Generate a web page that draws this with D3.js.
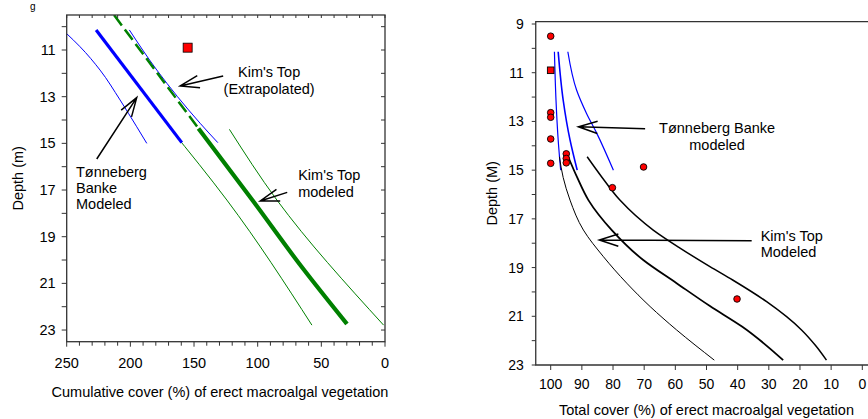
<!DOCTYPE html>
<html><head><meta charset="utf-8">
<script src="https://cdn.jsdelivr.net/npm/d3@7"></script>
<style>
body{margin:0;background:#fff}
svg{display:block}
text{font-family:"Liberation Sans",Arial,Helvetica,sans-serif;fill:#000}
</style>
</head><body>
<svg id="c" width="868" height="419"></svg>
<script>
// ---------- tick labels ----------
const leftXTicks = [250, 200, 150, 100, 50, 0];
const leftYTicks = [11, 13, 15, 17, 19, 21, 23];
const rightXTicks = [100, 90, 80, 70, 60, 50, 40, 30, 20, 10, 0];
const rightYTicks = [9, 11, 13, 15, 17, 19, 21, 23];

// ---------- left panel series: [cumulative cover %, depth m] ----------
const tbModeled = [[226.9, 10.14], [159.6, 14.97]];
const tbLower = [[250, 10.3], [239.5, 10.86], [223.8, 11.86], [208.1, 13.14], [195, 14.29], [187.1, 15.0]];
const tbUpper = [[200.8, 10.14], [179.2, 11.86], [145.2, 14.14], [131.3, 14.97]];
const kimExtrap = [[212.8, 9.5], [146.5, 14.36]];
const kimModeled = [[146.5, 14.36], [104.2, 17.43], [65.5, 20.29], [29.9, 22.74]];
const kimLower = [[168.8, 14.36], [124.2, 17.43], [57.4, 22.79]];
const kimUpper = [[122.2, 14.4], [84.9, 17.43], [1.1, 22.79]];
const leftSquare = [[155, 10.9]];

// ---------- right panel series: [total cover %, depth m] ----------
const tbR1 = [[98.8, 10.14], [98.3, 12.12], [97.6, 13.76], [96.8, 15.0]];
const tbR2 = [[97.6, 10.14], [96.0, 12.12], [93.8, 13.76], [91.5, 15.0]];
const tbR3 = [[94.5, 10.14], [91.7, 11.71], [88.5, 12.67], [85.2, 13.49], [79.9, 15.0]];
const kR1 = [[97.2, 14.45], [96.0, 15.3], [93.8, 16.23], [89.5, 17.46], [83.1, 18.55], [75.6, 19.64], [68.1, 20.6], [59.6, 21.56], [47.5, 22.8]];
const kR2 = [[94.4, 14.45], [91.5, 15.3], [87.9, 16.23], [80.4, 17.46], [70.3, 18.69], [59.6, 19.64], [48.9, 20.58], [38.5, 21.43], [25.4, 22.8]];
const kR3 = [[88.3, 14.45], [83.5, 15.3], [77.8, 16.23], [67.1, 17.46], [58.5, 18.2], [48.9, 18.96], [41.6, 19.51], [30.7, 20.4], [19.5, 21.56], [15.0, 22.2], [11.5, 22.8]];
const obsCircles = [[100, 9.5], [100, 12.64], [100, 12.83], [100, 13.72], [100, 14.72], [95, 14.33], [95, 14.52], [95, 14.7], [80.2, 15.72], [70.2, 14.87], [40.2, 20.29]];
const obsSquare = [[100, 10.9]];

// ---------- annotations (data coordinates) ----------
const leftArrows = [
  {tail: [127.1, 12.11], head: [160.9, 12.54]},
  {tail: [226.4, 15.67], head: [195, 13.04]},
  {tail: [76.8, 17.1], head: [98, 17.47]}
];
const leftLabels = [
  {x: 91, y: 12.16, anchor: "middle", text: "Kim's Top"},
  {x: 91, y: 12.89, anchor: "middle", text: "(Extrapolated)"},
  {x: 242.7, y: 16.44, anchor: "start", text: "Tønneberg"},
  {x: 242.7, y: 17.13, anchor: "start", text: "Banke"},
  {x: 242.7, y: 17.82, anchor: "start", text: "Modeled"},
  {x: 68.2, y: 16.57, anchor: "start", text: "Kim's Top"},
  {x: 68.2, y: 17.29, anchor: "start", text: "modeled"}
];
const rightArrows = [
  {tail: [69.7, 13.3], head: [91.1, 13.22]},
  {tail: [35.5, 17.9], head: [84.4, 17.87]}
];
const rightLabels = [
  {x: 46.6, y: 13.49, anchor: "middle", text: "Tønneberg Banke"},
  {x: 46.6, y: 14.17, anchor: "middle", text: "modeled"},
  {x: 32.6, y: 17.91, anchor: "start", text: "Kim's Top"},
  {x: 32.6, y: 18.58, anchor: "start", text: "Modeled"}
];

const svg = d3.select("#c");
svg.append("rect").attr("width", 868).attr("height", 419).attr("fill", "#fff");

// fragment of the figure caption above the panels
svg.append("text").attr("x", 30).attr("y", 9.5).attr("font-size", 10).text("g");

const FS = 14.5;
const frameColor = "#333";

function drawArrow(g, x, y, a, len = 20, ang = 18 * Math.PI / 180) {
  const hx = x(a.head[0]), hy = y(a.head[1]);
  const tx = x(a.tail[0]), ty = y(a.tail[1]);
  const th = Math.atan2(ty - hy, tx - hx);
  const p = d3.path();
  p.moveTo(tx, ty); p.lineTo(hx, hy);
  p.moveTo(hx + len * Math.cos(th + ang), hy + len * Math.sin(th + ang));
  p.lineTo(hx, hy);
  p.lineTo(hx + len * Math.cos(th - ang), hy + len * Math.sin(th - ang));
  g.append("path").attr("d", p.toString()).attr("fill", "none")
    .attr("stroke", "#000").attr("stroke-width", 1.5);
}

// =================== LEFT PANEL ===================
{
  const x = d3.scaleLinear().domain([250, 0]).range([66.7, 385]);
  const y = d3.scaleLinear().domain([9.5, 23.5]).range([15, 341.7]);
  const g = svg.append("g");
  const [x0, x1] = x.range(), [y0, y1] = y.range();

  const line = d3.line().x(d => x(d[0])).y(d => y(d[1])).curve(d3.curveMonotoneY);
  svg.append("clipPath").attr("id", "clipL").append("rect")
    .attr("x", x0).attr("y", y0).attr("width", x1 - x0).attr("height", y1 - y0);
  const plot = g.append("g").attr("clip-path", "url(#clipL)");

  const series = [
    {d: tbLower, c: "#0000ff", w: 1},
    {d: tbUpper, c: "#0000ff", w: 1},
    {d: kimLower, c: "#008000", w: 1},
    {d: kimUpper, c: "#008000", w: 1},
    {d: kimExtrap, c: "#008000", w: 2.5, dash: "13,5"},
    {d: tbModeled, c: "#0000ff", w: 3.2},
    {d: kimModeled, c: "#008000", w: 4.2}
  ];
  series.forEach(s => {
    plot.append("path").attr("d", line(s.d)).attr("fill", "none")
      .attr("stroke", s.c).attr("stroke-width", s.w)
      .attr("stroke-dasharray", s.dash || null);
  });
  plot.selectAll("rect.sq").data(leftSquare).enter().append("rect")
    .attr("x", d => x(d[0]) - 4.5).attr("y", d => y(d[1]) - 4.5)
    .attr("width", 9).attr("height", 9)
    .attr("fill", "#ff0000").attr("stroke", "#000").attr("stroke-width", 0.8);

  // frame
  g.append("rect").attr("x", x0).attr("y", y0).attr("width", x1 - x0).attr("height", y1 - y0)
    .attr("fill", "none").attr("stroke", frameColor).attr("stroke-width", 1.3);

  // ticks
  const xt = d3.range(0, 251, 10);
  const yt = d3.range(10, 24, 1);
  g.selectAll("line.xb").data(xt).enter().append("line")
    .attr("x1", d => x(d)).attr("x2", d => x(d)).attr("y1", y1).attr("y2", d => y1 + (d % 50 === 0 ? 5 : 4))
    .attr("stroke", frameColor).attr("stroke-width", 1);
  g.selectAll("line.xt").data(xt).enter().append("line")
    .attr("x1", d => x(d)).attr("x2", d => x(d)).attr("y1", y0).attr("y2", y0 + 3)
    .attr("stroke", frameColor).attr("stroke-width", 1);
  g.selectAll("line.yl").data(yt).enter().append("line")
    .attr("x1", x0 - 5).attr("x2", x0).attr("y1", d => y(d)).attr("y2", d => y(d))
    .attr("stroke", frameColor).attr("stroke-width", 1);
  g.selectAll("line.yr").data(yt).enter().append("line")
    .attr("x1", x1 - 4).attr("x2", x1).attr("y1", d => y(d)).attr("y2", d => y(d))
    .attr("stroke", frameColor).attr("stroke-width", 1);

  g.selectAll("text.xl").data(leftXTicks).enter().append("text")
    .attr("x", d => x(d)).attr("y", y1 + 26).attr("text-anchor", "middle")
    .attr("font-size", FS).text(d => d);
  g.selectAll("text.yl").data(leftYTicks).enter().append("text")
    .attr("x", x0 - 11).attr("y", d => y(d) + 5).attr("text-anchor", "end")
    .attr("font-size", FS).text(d => d);

  g.append("text").attr("x", 220).attr("y", 396.5).attr("text-anchor", "middle")
    .attr("font-size", FS).text("Cumulative cover (%) of erect macroalgal vegetation");
  g.append("text").attr("transform", `translate(23,${(y0 + y1) / 2}) rotate(-90)`)
    .attr("text-anchor", "middle").attr("font-size", FS).text("Depth (m)");

  leftArrows.forEach(a => drawArrow(g, x, y, a));
  leftLabels.forEach(l => g.append("text").attr("x", x(l.x)).attr("y", y(l.y))
    .attr("text-anchor", l.anchor).attr("font-size", FS).text(l.text));
}

// =================== RIGHT PANEL ===================
{
  const x = d3.scaleLinear().domain([100, 0]).range([550.7, 862.3]);
  const y = d3.scaleLinear().domain([9, 23]).range([24, 365]);
  const g = svg.append("g");
  const x0 = x(104.8), x1 = 880, y0 = y(8.905), y1 = y(23);

  const line = d3.line().x(d => x(d[0])).y(d => y(d[1])).curve(d3.curveMonotoneY);
  const series = [
    {d: tbR1, c: "#0000ff", w: 1.2},
    {d: tbR2, c: "#0000ff", w: 1.6},
    {d: tbR3, c: "#0000ff", w: 1.2},
    {d: kR1, c: "#000", w: 1},
    {d: kR2, c: "#000", w: 1.8},
    {d: kR3, c: "#000", w: 1.5}
  ];
  series.forEach(s => {
    g.append("path").attr("d", line(s.d)).attr("fill", "none")
      .attr("stroke", s.c).attr("stroke-width", s.w);
  });
  g.selectAll("circle.obs").data(obsCircles).enter().append("circle")
    .attr("cx", d => x(d[0])).attr("cy", d => y(d[1])).attr("r", 3.3)
    .attr("fill", "#ff0000").attr("stroke", "#000").attr("stroke-width", 0.9);
  g.selectAll("rect.sq").data(obsSquare).enter().append("rect")
    .attr("x", d => x(d[0]) - 3.3).attr("y", d => y(d[1]) - 3.3)
    .attr("width", 6.6).attr("height", 6.6)
    .attr("fill", "#ff0000").attr("stroke", "#000").attr("stroke-width", 0.9);

  // frame (left, top, bottom)
  const p = d3.path();
  p.moveTo(x1, y0); p.lineTo(x0, y0); p.lineTo(x0, y1); p.lineTo(x1, y1);
  g.append("path").attr("d", p.toString()).attr("fill", "none")
    .attr("stroke", frameColor).attr("stroke-width", 1.3);

  g.selectAll("line.xb").data(rightXTicks).enter().append("line")
    .attr("x1", d => x(d)).attr("x2", d => x(d)).attr("y1", y1).attr("y2", y1 + 5)
    .attr("stroke", frameColor).attr("stroke-width", 1);
  g.selectAll("line.yl").data(d3.range(9, 24, 1)).enter().append("line")
    .attr("x1", x0 - 4).attr("x2", x0).attr("y1", d => y(d)).attr("y2", d => y(d))
    .attr("stroke", frameColor).attr("stroke-width", 1);

  g.selectAll("text.xl").data(rightXTicks).enter().append("text")
    .attr("x", d => x(d)).attr("y", y1 + 24).attr("text-anchor", "middle")
    .attr("font-size", 14).text(d => d);
  g.selectAll("text.yl").data(rightYTicks).enter().append("text")
    .attr("x", x0 - 12).attr("y", d => y(d) + 5).attr("text-anchor", "end")
    .attr("font-size", 14).text(d => d);

  g.append("text").attr("x", 706.5).attr("y", 415).attr("text-anchor", "middle")
    .attr("font-size", FS).text("Total cover (%) of erect macroalgal vegetation");
  g.append("text").attr("transform", `translate(497,${(y0 + y1) / 2}) rotate(-90)`)
    .attr("text-anchor", "middle").attr("font-size", FS).text("Depth (M)");

  rightArrows.forEach(a => drawArrow(g, x, y, a));
  rightLabels.forEach(l => g.append("text").attr("x", x(l.x)).attr("y", y(l.y))
    .attr("text-anchor", l.anchor).attr("font-size", FS).text(l.text));
}
</script>
</body></html>
